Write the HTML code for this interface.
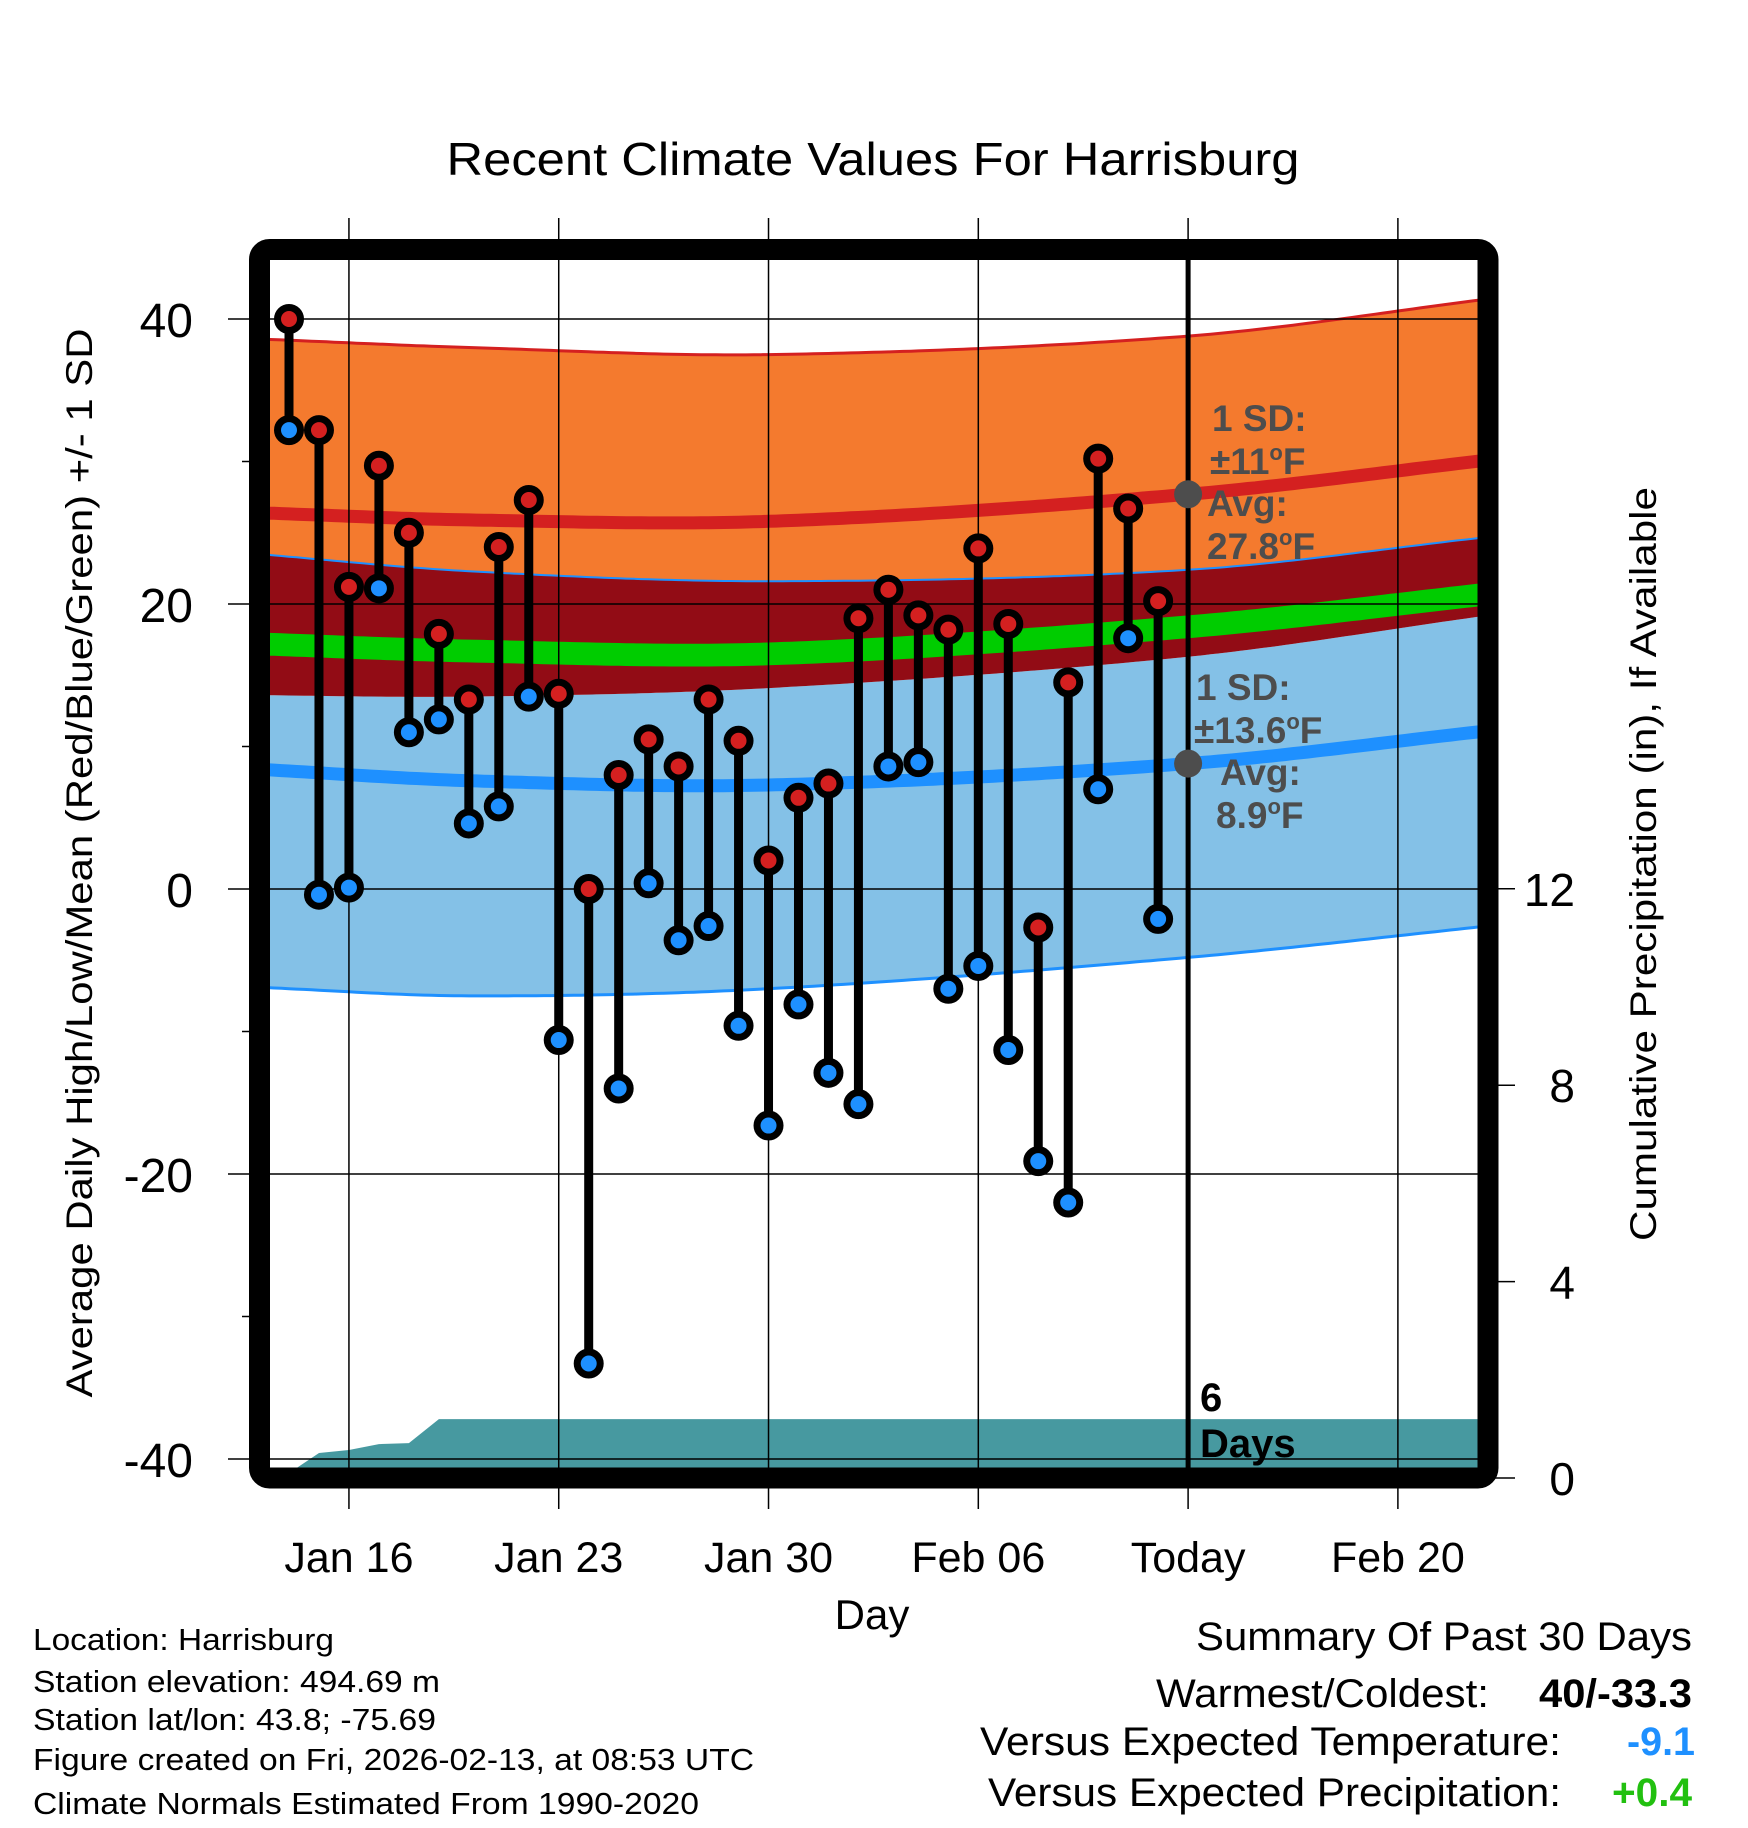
<!DOCTYPE html>
<html><head><meta charset="utf-8"><style>
html,body{margin:0;padding:0;background:#fff;}
svg{display:block;font-family:"Liberation Sans",sans-serif;}
</style></head><body>
<svg id="chart" width="1748" height="1828" viewBox="0 0 1748 1828" xmlns="http://www.w3.org/2000/svg">
<defs><clipPath id="plotclip"><rect x="270" y="260" width="1208" height="1208"/></clipPath></defs>
<text x="873" y="175" font-size="46" text-anchor="middle" textLength="853" lengthAdjust="spacingAndGlyphs">Recent Climate Values For Harrisburg</text>
<g id="fills" clip-path="url(#plotclip)"></g>
<g id="grid"></g>
<g id="marks"></g>
<g id="annot"></g>
<rect x="259.5" y="249.5" width="1228.5" height="1228.5" rx="10" fill="none" stroke="#000" stroke-width="21"/>
<g id="axes"></g>
<text transform="translate(92,863) rotate(-90)" font-size="37" text-anchor="middle" textLength="1069" lengthAdjust="spacingAndGlyphs">Average Daily High/Low/Mean (Red/Blue/Green) +/- 1 SD</text>
<text transform="translate(1656,864) rotate(-90)" font-size="37" text-anchor="middle" textLength="754" lengthAdjust="spacingAndGlyphs">Cumulative Precipitation (in), If Available</text>
<text x="872" y="1629" font-size="42" text-anchor="middle">Day</text>
<g font-size="31">
<text x="33" y="1650" textLength="301" lengthAdjust="spacingAndGlyphs">Location: Harrisburg</text>
<text x="33" y="1692" textLength="407" lengthAdjust="spacingAndGlyphs">Station elevation: 494.69 m</text>
<text x="33" y="1730" textLength="403" lengthAdjust="spacingAndGlyphs">Station lat/lon: 43.8; -75.69</text>
<text x="33" y="1770" textLength="721" lengthAdjust="spacingAndGlyphs">Figure created on Fri, 2026-02-13, at 08:53 UTC</text>
<text x="33" y="1814" textLength="666" lengthAdjust="spacingAndGlyphs">Climate Normals Estimated From 1990-2020</text>
</g>
<g font-size="40">
<text x="1196" y="1650" textLength="496" lengthAdjust="spacingAndGlyphs">Summary Of Past 30 Days</text>
<text x="1156" y="1707" textLength="333" lengthAdjust="spacingAndGlyphs">Warmest/Coldest:</text>
<text x="1539" y="1707" font-weight="bold" textLength="153" lengthAdjust="spacingAndGlyphs">40/-33.3</text>
<text x="980" y="1755" textLength="581" lengthAdjust="spacingAndGlyphs">Versus Expected Temperature:</text>
<text x="1627" y="1755" font-weight="bold" fill="#1e90ff" textLength="68" lengthAdjust="spacingAndGlyphs">-9.1</text>
<text x="988" y="1806" textLength="573" lengthAdjust="spacingAndGlyphs">Versus Expected Precipitation:</text>
<text x="1612" y="1806" font-weight="bold" fill="#22c010" textLength="80" lengthAdjust="spacingAndGlyphs">+0.4</text>
</g>
</svg>
<script>
// ---- data ----
const highs = [40, 32.2, 21.2, 29.7, 25.0, 17.9, 13.3, 24.0, 27.3, 13.7, 0, 8.0, 10.5, 8.6, 13.3, 10.4, 2.0, 6.4, 7.4, 19.0, 21.0, 19.2, 18.2, 23.9, 18.6, -2.7, 14.5, 30.2, 26.7, 20.2];
const lows = [32.2, -0.4, 0.1, 21.1, 11.0, 11.9, 4.6, 5.8, 13.5, -10.6, -33.3, -14.0, 0.4, -3.6, -2.6, -9.6, -16.6, -8.1, -12.9, -15.1, 8.6, 8.9, -7.0, -5.4, -11.3, -19.1, -22.0, 7.0, 17.6, -2.1];
const precipCum = [0.1, 0.51, 0.57, 0.69, 0.71, 1.2, 1.2, 1.2, 1.2, 1.2, 1.2, 1.2, 1.2, 1.2, 1.2, 1.2, 1.2, 1.2, 1.2, 1.2, 1.2, 1.2, 1.2, 1.2, 1.2, 1.2, 1.2, 1.2, 1.2, 1.2];
const normDays = [-1, 6, 16, 30, 40];
const hiUpper = [38.6, 38.0, 37.5, 38.8, 41.4];
const hiMean = [26.4, 25.9, 25.8, 27.7, 30.1];
const hiLower = [23.5, 22.3, 21.6, 22.4, 24.7];
const avgMean = [17.2, 16.7, 16.5, 18.4, 20.7];
const loUpper = [13.6, 13.5, 14.1, 16.3, 19.2];
const loMean = [8.4, 7.6, 7.3, 8.8, 11.1];
const loLower = [-6.9, -7.5, -7.0, -4.8, -2.6];
const xTickDays = [2, 9, 16, 23, 30, 37];
const xTickLabels = ["Jan 16", "Jan 23", "Jan 30", "Feb 06", "Today", "Feb 20"];
const yTicks = [40, 20, 0, -20, -40];
const yMinor = [30, 10, -10, -30];
const y2Ticks = [0, 4, 8, 12];
const todayDay = 30;
const hiAvgToday = "27.8", hiSD = "11", loAvgToday = "8.9", loSD = "13.6";
const daysLabel = "6";

// ---- scales ----
const x = d => 289 + d * 29.97;
const y = t => 889 - t * 14.25;
const y2 = p => 1478 - p * 49.1;
const NS = "http://www.w3.org/2000/svg";
function mk(tag, attrs, parent) { const e = document.createElementNS(NS, tag); for (const k in attrs) e.setAttribute(k, attrs[k]); parent.appendChild(e); return e; }
// Catmull-Rom (non-uniform spacing handled via slopes)
function interp(arr, d) {
  const n = normDays.length;
  let i = 0;
  while (i < n - 2 && d > normDays[i + 1]) i++;
  const x0 = normDays[i], x1 = normDays[i + 1];
  const slope = k => {
    if (k === 0) return (arr[1] - arr[0]) / (normDays[1] - normDays[0]);
    if (k === n - 1) return (arr[n - 1] - arr[n - 2]) / (normDays[n - 1] - normDays[n - 2]);
    return (arr[k + 1] - arr[k - 1]) / (normDays[k + 1] - normDays[k - 1]);
  };
  const h = x1 - x0, t = (d - x0) / h;
  const m0 = slope(i) * h, m1 = slope(i + 1) * h;
  const t2 = t * t, t3 = t2 * t;
  return (2 * t3 - 3 * t2 + 1) * arr[i] + (t3 - 2 * t2 + t) * m0 + (-2 * t3 + 3 * t2) * arr[i + 1] + (t3 - t2) * m1;
}
const samples = []; for (let d = -1; d <= 40.001; d += 0.25) samples.push(d);
function linePts(arr, off) { return samples.map(d => x(d).toFixed(1) + "," + y(interp(arr, d) + (off || 0)).toFixed(1)); }
function band(top, bot, offT, offB) { return linePts(top, offT).concat(linePts(bot, offB).reverse()).join(" "); }

const fills = document.getElementById("fills");
let e;
e = mk("polygon", { points: band(hiUpper, hiLower), fill: "#f47a2e" }, fills);


e = mk("polygon", { points: band(loUpper, loLower), fill: "#84c1e7" }, fills);


e = mk("polygon", { points: band(hiLower, loUpper), fill: "#920c15" }, fills);


e = mk("polygon", { points: band(avgMean, avgMean, 0.8, -0.8), fill: "#00cc00" }, fills);


e = mk("polyline", { points: linePts(hiUpper).join(" "), fill: "none", stroke: "#d42020", "stroke-width": 3 }, fills);


e = mk("polyline", { points: linePts(hiLower).join(" "), fill: "none", stroke: "#1e90ff", "stroke-width": 2 }, fills);


e = mk("polyline", { points: linePts(loLower).join(" "), fill: "none", stroke: "#1e90ff", "stroke-width": 3 }, fills);


e = mk("polyline", { points: linePts(hiMean).join(" "), fill: "none", stroke: "#d42020", "stroke-width": 13 }, fills);


e = mk("polyline", { points: linePts(loMean).join(" "), fill: "none", stroke: "#1e90ff", "stroke-width": 13 }, fills);


// precip area
let pp = [x(-0.13) + "," + y2(0)];
precipCum.forEach((v, i) => pp.push(x(i).toFixed(1) + "," + y2(v).toFixed(1)));
pp.push(x(40) + "," + y2(precipCum[precipCum.length - 1]).toFixed(1));
pp.push(x(40) + "," + y2(-1)); pp.push(x(-0.13) + "," + y2(-1));
e = mk("polygon", { points: pp.join(" "), fill: "#4799a0" }, fills);



// grid
const grid = document.getElementById("grid");
xTickDays.forEach(d => {
  e = mk("line", { x1: x(d), x2: x(d), y1: 218, y2: 1509, stroke: "#000", "stroke-width": 1.5 }, grid);
  
  
});
yTicks.forEach(t => {
  e = mk("line", { x1: 228, x2: 1478, y1: y(t), y2: y(t), stroke: "#000", "stroke-width": 1.5 }, grid);
  
  
});
yMinor.forEach(t => {
  e = mk("line", { x1: 242, x2: 260, y1: y(t), y2: y(t), stroke: "#000", "stroke-width": 1.5 }, grid);
  
  
});
y2Ticks.forEach(p => {
  e = mk("line", { x1: 1488, x2: 1515, y1: y2(p), y2: y2(p), stroke: "#000", "stroke-width": 1.5 }, grid);
  
  
});
e = mk("line", { x1: x(todayDay), x2: x(todayDay), y1: 255, y2: 1470, stroke: "#000", "stroke-width": 5 }, grid);



// marks
const marks = document.getElementById("marks");
highs.forEach((h, i) => {
  e = mk("line", { x1: x(i), x2: x(i), y1: y(h), y2: y(lows[i]), stroke: "#000", "stroke-width": 9 }, marks);
  
  
});
highs.forEach((h, i) => {
  e = mk("circle", { cx: x(i), cy: y(lows[i]), r: 11.5, fill: "#1e90ff", stroke: "#000", "stroke-width": 7 }, marks);
  
  
  e = mk("circle", { cx: x(i), cy: y(h), r: 11.5, fill: "#d42020", stroke: "#000", "stroke-width": 7 }, marks);
  
  
});

// annotations
const an = document.getElementById("annot");
const tx = x(todayDay);
function txt(s, xx, yy, attrs, name) {
  const t = mk("text", Object.assign({ x: xx, y: yy }, attrs), an); t.innerHTML = s;
  
  
  return t;
}
e = mk("circle", { cx: tx, cy: y(interp(hiMean, todayDay)), r: 14, fill: "#4d4d4d" }, an);


e = mk("circle", { cx: tx, cy: y(interp(loMean, todayDay)), r: 14, fill: "#4d4d4d" }, an);


const ga = { "font-size": 37, "font-weight": "bold", fill: "#4d4d4d" };
txt("1 SD:", 1212, 431, ga, 'high-sd-label');
txt("±" + hiSD + "<tspan font-size='22' dy='-14'>o</tspan><tspan dy='14'>F</tspan>", 1210, 474, ga, 'high-sd-value');
txt("Avg:", 1207, 516, ga, 'high-avg-label');
txt(hiAvgToday + "<tspan font-size='22' dy='-14'>o</tspan><tspan dy='14'>F</tspan>", 1207, 559, ga, 'high-avg-value');
txt("1 SD:", 1196, 700, ga, 'low-sd-label');
txt("±" + loSD + "<tspan font-size='22' dy='-14'>o</tspan><tspan dy='14'>F</tspan>", 1194, 743, ga, 'low-sd-value');
txt("Avg:", 1220, 785, ga, 'low-avg-label');
txt(loAvgToday + "<tspan font-size='22' dy='-14'>o</tspan><tspan dy='14'>F</tspan>", 1216, 828, ga, 'low-avg-value');
const ba = { "font-size": 40, "font-weight": "bold", fill: "#000" };
txt(daysLabel, 1200, 1411, ba, 'days-count');
txt("Days", 1200, 1457, ba, 'days-label');

// axes labels
const ax = document.getElementById("axes");
xTickDays.forEach((d, i) => {
  e = mk("text", { x: x(d), y: 1572, "font-size": 43, "text-anchor": "middle" }, ax); e.textContent = xTickLabels[i];
  
  
});
yTicks.forEach(t => {
  e = mk("text", { x: 193, y: y(t) + 18, "font-size": 48, "text-anchor": "end" }, ax); e.textContent = String(t);
  
  
});
y2Ticks.forEach(p => {
  e = mk("text", { x: 1575, y: y2(p) + 17, "font-size": 46, "text-anchor": "end" }, ax); e.textContent = String(p);
  
  
});
</script>
</body></html>
